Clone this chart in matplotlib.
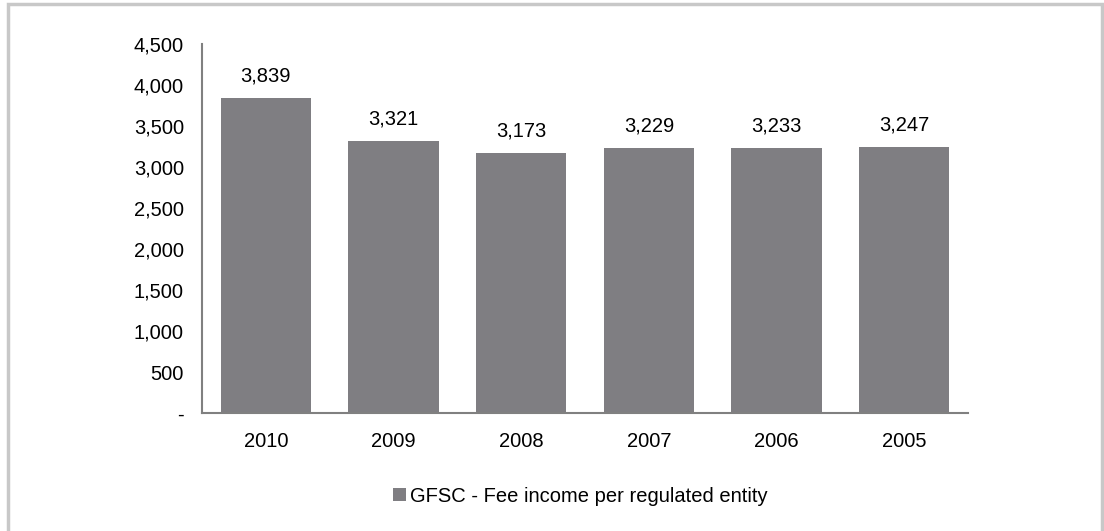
import matplotlib
matplotlib.use("Agg")
import matplotlib.pyplot as plt
from matplotlib.patches import Rectangle
from matplotlib.ticker import FuncFormatter

years = ["2010", "2009", "2008", "2007", "2006", "2005"]
fee_income = [3839, 3321, 3173, 3229, 3233, 3247]
series_name = "GFSC - Fee income per regulated entity"
y_ticks = [0, 500, 1000, 1500, 2000, 2500, 3000, 3500, 4000, 4500]

plt.rcParams["font.family"] = ["Liberation Sans", "DejaVu Sans"]

W, H = 1104, 531
FS = 14.5
fig = plt.figure(figsize=(W / 100, H / 100), dpi=100)
fig.patch.set_facecolor("white")

# outer frame
fig.patches.append(Rectangle((8 / W, -0.1), 1094 / W, 1.1 - 4 / H,
                             transform=fig.transFigure, fill=False,
                             edgecolor="#c8c8c8", linewidth=2.5))

ax = fig.add_axes([202 / W, 1 - 413 / H, (968 - 202) / W, (413 - 44) / H])
bar_color = "#7f7e82"
x = range(len(years))
bars = ax.bar(x, fee_income, width=0.71, color=bar_color, label=series_name)

for xi, v in zip(x, fee_income):
    ax.annotate(f"{v:,}", (xi, v), xytext=(0, 9), textcoords="offset points",
                ha="center", va="bottom", fontsize=FS, color="black")

ax.set_xlim(-0.5, len(years) - 0.5)
ax.set_ylim(0, 4500)
ax.set_yticks(y_ticks)
ax.yaxis.set_major_formatter(FuncFormatter(lambda v, p: "-" if v == 0 else f"{int(v):,}"))
ax.set_xticks(list(x))
ax.set_xticklabels(years)
ax.tick_params(axis="both", length=0, labelsize=FS, colors="black")
ax.tick_params(axis="y", pad=13)
ax.tick_params(axis="x", pad=14)

for s in ["top", "right"]:
    ax.spines[s].set_visible(False)
for s in ["left", "bottom"]:
    ax.spines[s].set_color("#808080")
    ax.spines[s].set_linewidth(1.5)

fig.legend(handles=[bars], labels=[series_name], loc="center",
           bbox_to_anchor=(580 / W, 1 - 496 / H), frameon=False, fontsize=FS,
           handlelength=0.65, handleheight=0.65, handletextpad=0.2)

fig.savefig("out.png", dpi=100)
